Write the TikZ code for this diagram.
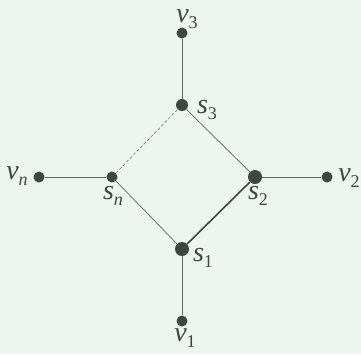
\documentclass[tikz,border=0pt]{standalone}
\usepackage{fontspec}
\setmainfont{Liberation Serif}
\usepackage{tikz}
\definecolor{bgmint}{HTML}{EEF5F1}
\definecolor{dotgray}{HTML}{3E4641}
\definecolor{linegray}{HTML}{5E6460}
\newcommand{\sublab}[2]{\textit{#1}\raisebox{-0.45ex}{\fontsize{18}{18}\selectfont#2}}

\begin{document}
\begin{tikzpicture}[x=1pt,y=-1pt,
  dot/.style n args={1}{circle,fill=dotgray,inner sep=0pt,minimum size=#1pt},
  lbl/.style={text=dotgray,inner sep=0pt,font=\fontsize{28}{30}\selectfont},
  edge/.style={linegray,line width=0.7pt}]
\fill[bgmint] (0,0) rectangle (361,354);
\useasboundingbox (0,0) rectangle (361,354);
% switches
\node[dot=14] (s1) at (182,249) {};
\node[dot=14] (s2) at (255,177) {};
\node[dot=12] (s3) at (182,105) {};
\node[dot=11] (sn) at (112,177) {};
% end nodes
\node[dot=11] (v1) at (182,321) {};
\node[dot=11] (v2) at (327,177) {};
\node[dot=11] (v3) at (182,33) {};
\node[dot=11] (vn) at (39,177) {};
% labels
\node[lbl] (ls1) at (203,258) {\sublab{s}{1}};
\node[lbl] (ls2) at (258,196) {\sublab{s}{2}};
\node[lbl] (ls3) at (207,110) {\sublab{s}{3}};
\node[lbl] (lsn) at (113,196) {\sublab{s}{\textit{n}}};
\node[lbl] (lv1) at (185,338) {\sublab{v}{1}};
\node[lbl] (lv2) at (349,178) {\sublab{v}{2}};
\node[lbl] (lv3) at (187,19) {\sublab{v}{3}};
\node[lbl] (lvn) at (17,176) {\sublab{v}{\textit{n}}};
% links
\draw[edge] (v3) -- (s3);
\draw[edge] (s3) -- (s2);
\draw[edge] (s2) -- (v2);
\draw[dotgray,line width=1.6pt] (s2) -- (s1);
\draw[edge] (s1) -- (v1);
\draw[edge] (s1) -- (sn);
\draw[edge] (sn) -- (vn);
\draw[edge,dashed,line width=0.5pt,dash pattern=on 3pt off 2pt] (sn) -- (s3);
\end{tikzpicture}
\end{document}
